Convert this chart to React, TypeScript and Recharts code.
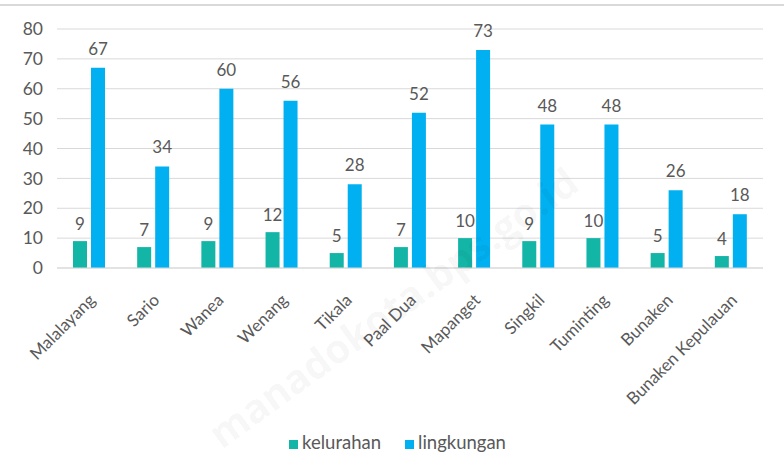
import { BarChart, Bar, XAxis, YAxis, CartesianGrid, Legend, LabelList } from "recharts";

const districts = [
  "Malalayang",
  "Sario",
  "Wanea",
  "Wenang",
  "Tikala",
  "Paal Dua",
  "Mapanget",
  "Singkil",
  "Tuminting",
  "Bunaken",
  "Bunaken Kepulauan",
];
const kelurahan = [9, 7, 9, 12, 5, 7, 10, 9, 10, 5, 4];
const lingkungan = [67, 34, 60, 56, 28, 52, 73, 48, 48, 26, 18];
const yTicks = [0, 10, 20, 30, 40, 50, 60, 70, 80];

const data = districts.map((name, i) => ({
  name,
  kelurahan: kelurahan[i],
  lingkungan: lingkungan[i],
}));

const FONT = "Lato, 'Open Sans', sans-serif";
const TEXT = "#595959";

// rotated category labels, right end sits just past the tick
const XTick = (props: { x?: number; y?: number; payload?: { value: string } }) => {
  const { x = 0, y = 0, payload } = props;
  return (
    <g transform={`translate(${x + 3},${y + 21}) rotate(-45)`}>
      <text x={0} y={0} dy={6} textAnchor="end" fill={TEXT} fontSize={17} fontFamily={FONT}>
        {payload?.value}
      </text>
    </g>
  );
};

export default function App() {
  return (
    <div style={{ position: "absolute", left: 0, top: 0, width: 784, height: 472, background: "#fff", overflow: "hidden" }}>
      <div style={{ position: "absolute", left: 0, top: 4, width: 784, height: 0, borderTop: "2px solid #d9d9d9" }} />
      <BarChart
        width={784}
        height={472}
        data={data}
        margin={{ top: 29, right: 21, left: 0, bottom: 0 }}
        barGap={4}
      >
        <CartesianGrid vertical={false} stroke="#d9d9d9" />
        <XAxis
          dataKey="name"
          interval={0}
          height={182}
          tickLine={false}
          axisLine={{ stroke: "#d9d9d9" }}
          tick={<XTick />}
        />
        <YAxis
          domain={[0, 80]}
          ticks={yTicks}
          width={57}
          tickLine={false}
          axisLine={false}
          tickSize={0}
          tickMargin={14}
          tick={{ fill: TEXT, fontSize: 17.5, fontFamily: FONT }}
        />
        <Legend
          verticalAlign="bottom"
          align="center"
          iconType="square"
          iconSize={9}
          wrapperStyle={{ top: 431, left: 28, fontFamily: FONT, fontSize: 18.5 }}
          formatter={(v: string) => <span style={{ color: TEXT, marginRight: 14 }}>{v}</span>}
        />
        <Bar dataKey="kelurahan" fill="#13b5a7" barSize={14} isAnimationActive={false}>
          <LabelList dataKey="kelurahan" position="top" offset={11} fill={TEXT} fontSize={17} fontFamily={FONT} />
        </Bar>
        <Bar dataKey="lingkungan" fill="#00b0f0" barSize={14} isAnimationActive={false}>
          <LabelList dataKey="lingkungan" position="top" offset={13} fill={TEXT} fontSize={17} fontFamily={FONT} />
        </Bar>
      </BarChart>
      {/* faint diagonal watermark */}
      <div
        style={{
          position: "absolute",
          left: 200,
          top: 420,
          transform: "rotate(-36deg)",
          transformOrigin: "left top",
          fontFamily: "'Open Sans', sans-serif",
          fontWeight: 700,
          fontSize: 40,
          lineHeight: "44px",
          color: "rgba(0,0,0,0.045)",
          whiteSpace: "nowrap",
          pointerEvents: "none",
        }}
      >
        manadokota.bps.go.id
      </div>
    </div>
  );
}
